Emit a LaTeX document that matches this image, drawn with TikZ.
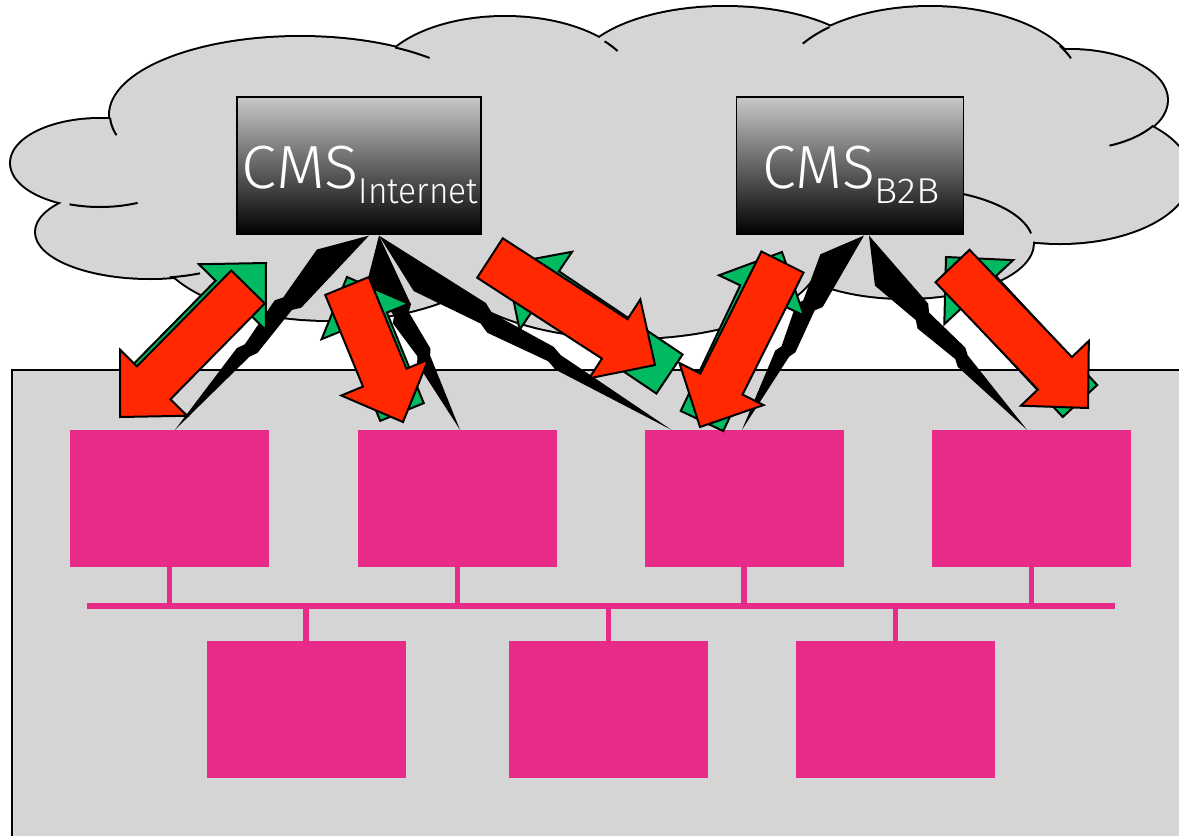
\documentclass[tikz,border=0pt]{standalone}
\usepackage{fontspec}
\usepackage{graphicx}
\newfontfamily\cmsfont{Fira Sans Light}
\usetikzlibrary{calc}
\definecolor{cloudgray}{RGB}{213,213,213}
\definecolor{boxpink}{RGB}{232,42,137}
\definecolor{arrred}{RGB}{255,40,0}
\definecolor{arrgreen}{RGB}{0,185,96}
\definecolor{cmstop}{RGB}{200,200,200}
% fat block arrow from tail centre #2 to tip #3
\newcommand\fatarrow[3]{%
  \coordinate (jj) at ($(#3)!48pt!(#2)$);
  \draw[#1] ($(#2)!23.5pt!90:(#3)$) -- ($(jj)!23.5pt!90:(#3)$) -- ($(jj)!47pt!90:(#3)$)
    -- (#3) -- ($(jj)!47pt!-90:(#3)$) -- ($(jj)!23.5pt!-90:(#3)$) -- ($(#2)!23.5pt!-90:(#3)$) -- cycle;
}
% lightning bolt from apex #1 to tip #2
\newcommand\bolt[2]{%
  \fill[boltfill] (#1)
    -- ($(#1)!0.17!(#2)!27pt!-90:(#2)$)
    -- ($(#1)!0.38!(#2)!17pt!-90:(#2)$)
    -- ($(#1)!0.41!(#2)!21pt!-90:(#2)$)
    -- ($(#1)!0.60!(#2)!11pt!-90:(#2)$)
    -- ($(#1)!0.63!(#2)!14pt!-90:(#2)$)
    -- (#2)
    -- ($(#1)!0.62!(#2)!1pt!90:(#2)$)
    -- ($(#1)!0.59!(#2)!4pt!90:(#2)$)
    -- ($(#1)!0.39!(#2)!2pt!-90:(#2)$)
    -- ($(#1)!0.36!(#2)!3pt!90:(#2)$)
    -- cycle;
}
\newcommand\cloudlobes[1]{%
  \path[#1] (100,163) ellipse [x radius=89, y radius=44];
  \path[#1] (150,232) ellipse [x radius=114, y radius=46];
  \path[#1] (300,115) ellipse [x radius=190, y radius=78];
  \path[#1] (505,85) ellipse [x radius=130, y radius=68];
  \path[#1] (725,75) ellipse [x radius=150, y radius=68];
  \path[#1] (930,85) ellipse [x radius=150, y radius=78];
  \path[#1] (1070,100) ellipse [x radius=97, y radius=50];
  \path[#1] (1060,175) ellipse [x radius=130, y radius=68];
  \path[#1] (905,243) ellipse [x radius=128, y radius=55];
  \path[#1] (630,255) ellipse [x radius=190, y radius=83];
  \path[#1] (330,240) ellipse [x radius=175, y radius=80];
}
\begin{document}
\begin{tikzpicture}[x=1pt,y=-1pt,
  cloudline/.style={draw=black, line width=4},
  cloudfill/.style={fill=cloudgray},
  stub/.style={draw=black, line width=2},
  lan/.style={draw=black, line width=2, fill=cloudgray},
  cmsbox/.style={draw=black, line width=1.2, top color=cmstop, bottom color=black, inner sep=0, minimum height=137},
  cmstext/.style={text=white, inner sep=0, anchor=base, font=\cmsfont},
  host/.style={fill=boxpink, minimum width=199, minimum height=137, inner sep=0},
  busline/.style={draw=boxpink, line width=6},
  drop/.style={draw=boxpink, line width=5.5},
  boltfill/.style={fill=black},
  redarrow/.style={fill=arrred, draw=black, line width=2},
  greenarrow/.style={fill=arrgreen, draw=black, line width=2}
]
\useasboundingbox (0,0) rectangle (1179,836);
\clip (0,0) rectangle (1179,836);

% LAN area
\draw[lan] (12,370) rectangle (1200,860);

% cloud
\cloudlobes{cloudline}
\cloudlobes{cloudfill}
\fill[cloudgray] (620,160) ellipse [x radius=440, y radius=120];
\fill[cloudgray] (200,180) ellipse [x radius=100, y radius=50];
% inner arc stubs of the cloud
\draw[stub] ($(100,163)+(110:89 and 44)$) arc [start angle=110, end angle=65, x radius=89, y radius=44];
\draw[stub] ($(150,232)+(80:114 and 46)$) arc [start angle=80, end angle=64, x radius=114, y radius=46];
\draw[stub] ($(300,115)+(178:190 and 78)$) arc [start angle=178, end angle=165, x radius=190, y radius=78];
\draw[stub] ($(300,115)+(-60:190 and 78)$) arc [start angle=-60, end angle=-47, x radius=190, y radius=78];
\draw[stub] ($(505,85)+(-40:130 and 68)$) arc [start angle=-40, end angle=-30, x radius=130, y radius=68];
\draw[stub] ($(930,85)+(-132:150 and 78)$) arc [start angle=-132, end angle=-148, x radius=150, y radius=78];
\draw[stub] ($(930,85)+(-30:150 and 78)$) arc [start angle=-30, end angle=-20, x radius=150, y radius=78];
\draw[stub] ($(1070,100)+(31:97 and 50)$) arc [start angle=31, end angle=66, x radius=97, y radius=50];
\draw[stub] ($(905,243)+(-150:128 and 55)$) arc [start angle=-150, end angle=-10, x radius=128, y radius=55];

% hosts
\node[host] (p1) at (169.5,498.5) {};
\node[host] (p2) at (457.5,498.5) {};
\node[host] (p3) at (744,498.5) {};
\node[host] (p4) at (1031.5,498.5) {};
\node[host] (q1) at (306,709.5) {};
\node[host] (q2) at (608.5,709.5) {};
\node[host] (q3) at (895.5,709.5) {};
\coordinate (busW) at (87,606);
\coordinate (busE) at (1115,606);
\draw[busline] (busW) -- (busE);
\foreach \h in {p1,p2,p3,p4} \draw[drop] (\h.south) -- (\h.south |- busW);
\foreach \h in {q1,q2,q3} \draw[drop] (\h.north) -- (\h.north |- busW);

% CMS servers
\node[cmsbox, minimum width=244] (cmsI) at (359,165.5) {};
\node[cmsbox, minimum width=227] (cmsB) at (850,165.5) {};
\node[cmstext] (tI) at ($(cmsI.south)+(1,-46)$) {\scalebox{1.04}[1]{\fontsize{61}{62}\selectfont CMS}\scalebox{0.93}[1]{\raisebox{-15pt}{\fontsize{36}{37}\selectfont Internet}}};
\node[cmstext] (tB) at ($(cmsB.south)+(1,-46)$) {\scalebox{1.0}[1]{\fontsize{61}{62}\selectfont CMS}\scalebox{1.08}[1]{\raisebox{-15pt}{\fontsize{36}{37}\selectfont B2B}}};

% lightning links
\coordinate (aI1) at ($(cmsI.south)+(10,1)$);
\coordinate (aI2) at ($(cmsI.south)+(20,1)$);
\coordinate (aB1) at ($(cmsB.south)+(14,1)$);
\coordinate (aB2) at ($(cmsB.south)+(19,1)$);
\bolt{aI1}{$(p1.north)+(5.5,0)$}
\bolt{aI2}{$(p2.north)+(2.5,0)$}
\bolt{aI2}{$(p3.north west)+(27,0)$}
\bolt{aB1}{$(p3.north)+(-2,0)$}
\bolt{aB2}{$(p4.north)+(-4.5,0)$}

% request / response arrows
\coordinate (r1t) at (248,287);  \coordinate (r1h) at (120,417);
\coordinate (g1t) at (138,393);  \coordinate (g1h) at (266,263);
\coordinate (r2t) at (347,286);  \coordinate (r2h) at (403,422);
\coordinate (g2t) at (402,412);  \coordinate (g2h) at (347,277);
\coordinate (r3t) at (490,258);  \coordinate (r3h) at (655,365);
\coordinate (g3t) at (669.5,374); \coordinate (g3h) at (506,264);
\coordinate (r4t) at (782.5,262); \coordinate (r4h) at (700,427);
\coordinate (g4t) at (702,421);  \coordinate (g4h) at (782,252);
\coordinate (r5t) at (952.5,266); \coordinate (r5h) at (1088,408);
\coordinate (g5t) at (1080,401); \coordinate (g5h) at (946,257);
\foreach \i in {1,...,5} {
  \fatarrow{greenarrow}{g\i t}{g\i h}
  \fatarrow{redarrow}{r\i t}{r\i h}
}
\end{tikzpicture}
\end{document}
